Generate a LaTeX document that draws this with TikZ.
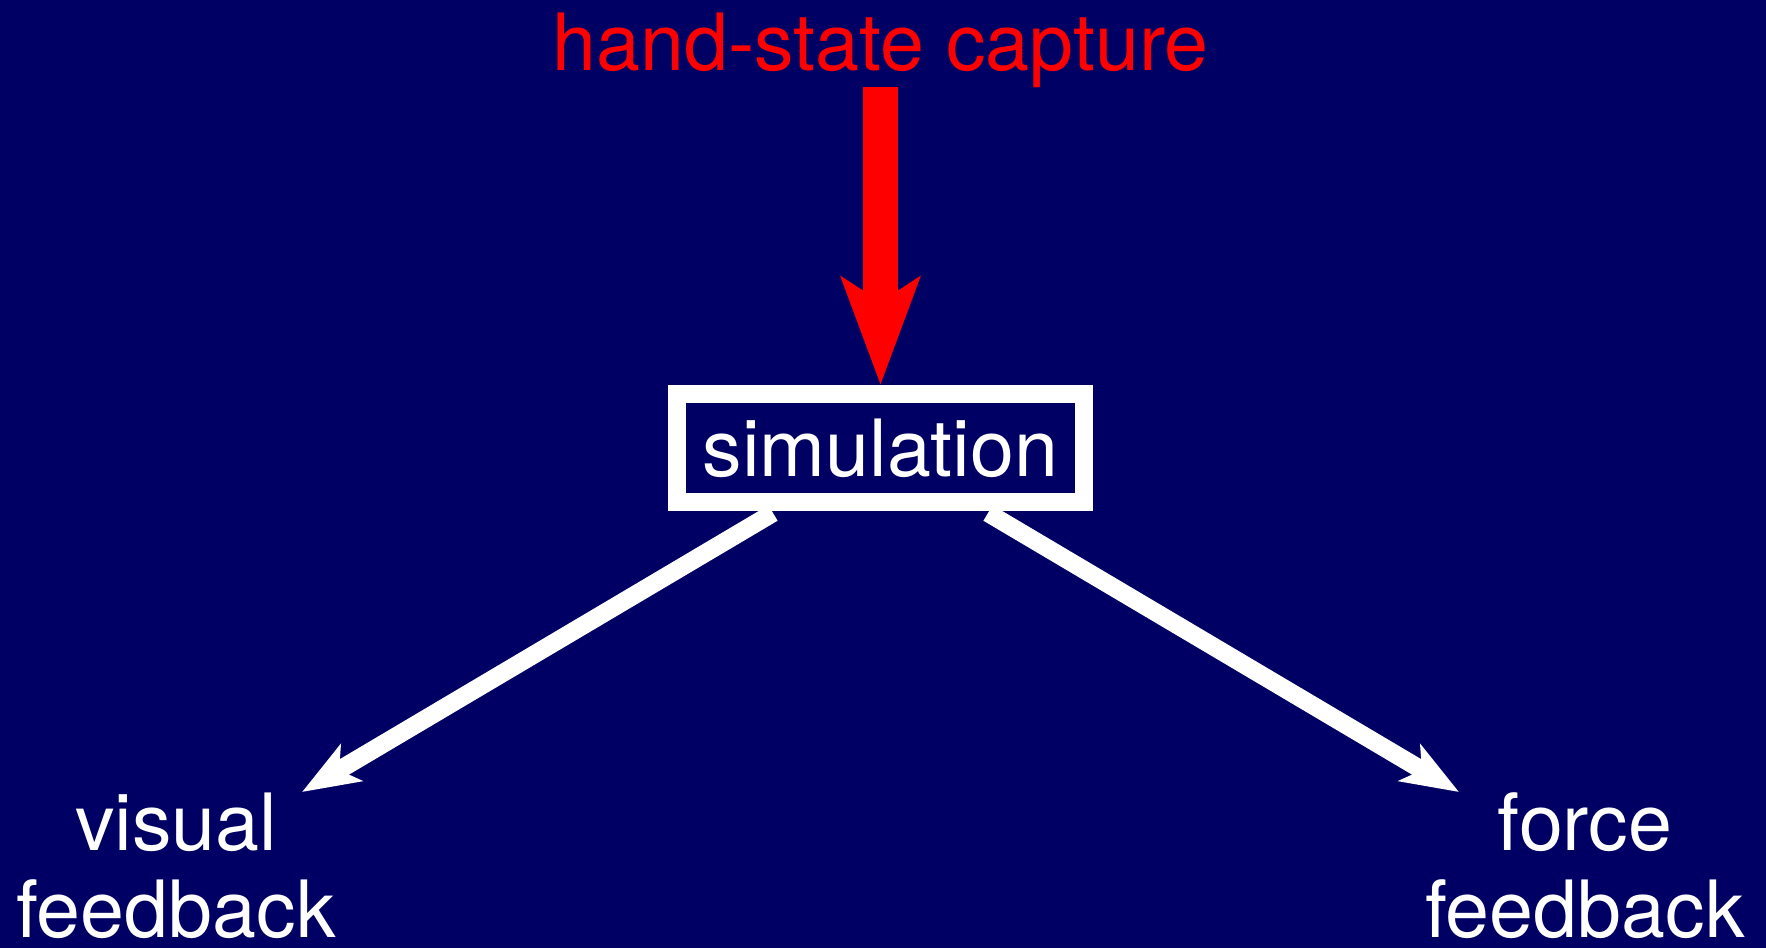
\documentclass[tikz,border=0pt]{standalone}
\usepackage{fontspec}
\setmainfont{TeX Gyre Heros}
\usetikzlibrary{arrows.meta}
\definecolor{bgnavy}{RGB}{0,0,100}
\definecolor{arrred}{RGB}{255,0,0}
\begin{document}
\begin{tikzpicture}[x=1pt,y=-1pt,
  lbl/.style={text=white,font=\fontsize{79}{87}\selectfont,inner sep=0pt,align=center},
  simbox/.style={draw=white,line width=18pt,minimum width=407pt,minimum height=107.5pt,inner sep=0pt,text=white,font=\fontsize{79}{87}\selectfont},
  redarrow/.style={draw=arrred,line width=35pt,-{Stealth[length=107pt,width=77pt,inset=24pt]}},
  whitearrow/.style={draw=white,line width=18pt,-{Stealth[length=57pt,width=42pt,inset=14pt]}}]
\fill[bgnavy] (0,0) rectangle (1766,948);
\useasboundingbox (0,0) rectangle (1766,948);
\node[lbl,text=arrred,anchor=base] (hand) at (880.5,70) {hand-state capture};
\node[simbox] (sim) at (880.5,448) {simulation};
\node[lbl,anchor=base] (vis) at (176,937) {visual\\feedback};
\node[lbl,anchor=base] (force) at (1585,937) {force\\feedback};
\coordinate (s1) at (773,513);
\coordinate (t1) at (302,792);
\coordinate (s2) at (988,513);
\coordinate (t2) at (1459,792);
\draw[redarrow] (hand.south) -- (sim.north);
\draw[whitearrow] (s1) -- (t1);
\draw[whitearrow] (s2) -- (t2);
\end{tikzpicture}
\end{document}
